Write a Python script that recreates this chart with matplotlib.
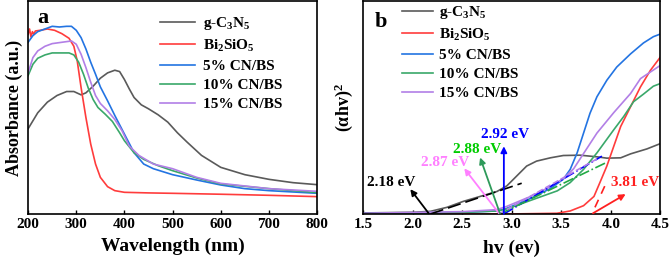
import numpy as np
import matplotlib.pyplot as plt

plt.rcParams['font.family'] = 'Liberation Serif'
plt.rcParams['font.weight'] = 'bold'
plt.rcParams['mathtext.fontset'] = 'custom'
plt.rcParams['mathtext.rm'] = 'Liberation Serif:bold'
plt.rcParams['mathtext.it'] = 'Liberation Serif:italic:bold'
plt.rcParams['mathtext.bf'] = 'Liberation Serif:bold'

# ---- panel a: UV-vis absorbance ----
wl_cn = [200, 210, 220, 240, 260, 280, 295, 310, 320, 335, 350, 365, 380, 390, 400, 410, 420,
         435, 450, 470, 490, 510, 530, 560, 600, 650, 700, 750, 800]
abs_cn = [0.64, 0.70, 0.76, 0.84, 0.89, 0.92, 0.92, 0.895, 0.91, 0.96, 1.02, 1.06, 1.08, 1.07, 1.01,
          0.94, 0.875, 0.82, 0.79, 0.745, 0.69, 0.61, 0.54, 0.44, 0.35, 0.295, 0.26, 0.235, 0.22]

wl_bs = [200, 203, 206, 209, 212, 215, 225, 240, 255, 270, 285, 295, 302, 310, 320, 330, 340, 350,
         365, 380, 400, 450, 500, 600, 700, 800]
abs_bs = [1.35, 1.39, 1.33, 1.37, 1.35, 1.375, 1.38, 1.39, 1.38, 1.355, 1.32, 1.26, 1.15, 0.95, 0.725,
          0.525, 0.375, 0.275, 0.205, 0.175, 0.1625, 0.158, 0.155, 0.148, 0.14, 0.13]

wl_5 = [200, 210, 220, 235, 250, 265, 280, 290, 300, 310, 320, 330, 340, 350, 365, 380, 400, 420,
        440, 460, 500, 550, 600, 650, 700, 800]
abs_5 = [1.29, 1.34, 1.37, 1.39, 1.41, 1.405, 1.41, 1.41, 1.38, 1.325, 1.24, 1.14, 1.05, 0.955, 0.85,
         0.74, 0.60, 0.46, 0.375, 0.34, 0.295, 0.255, 0.2175, 0.19, 0.175, 0.155]

wl_10 = [200, 210, 220, 235, 250, 270, 285, 295, 305, 315, 325, 335, 345, 360, 375, 390, 400, 420,
         440, 470, 500, 550, 600, 700, 800]
abs_10 = [1.04, 1.125, 1.17, 1.195, 1.21, 1.21, 1.21, 1.195, 1.14, 1.05, 0.945, 0.86, 0.80, 0.75,
          0.695, 0.61, 0.55, 0.46, 0.41, 0.3625, 0.325, 0.27, 0.225, 0.19, 0.16]

wl_15 = [200, 210, 220, 235, 250, 270, 290, 300, 310, 320, 330, 340, 350, 365, 380, 395, 410, 430,
         460, 500, 550, 600, 700, 800]
abs_15 = [1.06, 1.175, 1.225, 1.26, 1.28, 1.29, 1.30, 1.275, 1.20, 1.10, 0.99, 0.89, 0.83, 0.775,
          0.71, 0.625, 0.51, 0.44, 0.375, 0.34, 0.275, 0.23, 0.19, 0.17]

# ---- panel b: Tauc plot ----
ev_cn = [1.5, 2.01, 2.18, 2.345, 2.51, 2.68, 2.85, 2.95, 3.05, 3.15, 3.25, 3.39, 3.52, 3.69, 3.86,
         3.96, 4.10, 4.20, 4.365, 4.5]
t_cn = [0.03, 0.05, 0.08, 0.2, 0.38, 0.53, 0.68, 0.85, 1.15, 1.45, 1.6, 1.7, 1.77, 1.78, 1.73,
        1.69, 1.70, 1.82, 1.97, 2.13]

ev_bs = [1.5, 3.0, 3.456, 3.59, 3.725, 3.83, 3.89, 3.96, 4.03, 4.10, 4.20, 4.30, 4.40, 4.5]
t_bs = [0.0, 0.0, 0.02, 0.09, 0.25, 0.53, 0.95, 1.45, 2.05, 2.65, 3.25, 3.85, 4.35, 4.75]

ev_5 = [1.5, 2.51, 2.85, 2.95, 3.19, 3.39, 3.52, 3.59, 3.66, 3.725, 3.79, 3.86, 3.96, 4.06, 4.20,
        4.33, 4.43, 4.5]
t_5 = [0.01, 0.05, 0.09, 0.17, 0.47, 0.77, 1.05, 1.35, 1.85, 2.45, 3.05, 3.55, 4.05, 4.45, 4.85,
       5.18, 5.37, 5.45]

ev_10 = [1.5, 2.51, 2.85, 2.95, 3.19, 3.46, 3.59, 3.725, 3.86, 4.03, 4.13, 4.23, 4.33, 4.43, 4.5]
t_10 = [0.01, 0.05, 0.09, 0.15, 0.41, 0.70, 0.95, 1.35, 1.85, 2.55, 2.95, 3.40, 3.63, 3.87, 3.95]

ev_15 = [1.5, 2.51, 2.85, 2.95, 3.19, 3.39, 3.52, 3.625, 3.725, 3.86, 4.03, 4.20, 4.30, 4.40, 4.5]
t_15 = [0.02, 0.07, 0.13, 0.23, 0.53, 0.83, 1.07, 1.37, 1.83, 2.45, 3.07, 3.65, 4.1, 4.3, 4.5]

names = ['g-C$_3$N$_5$', 'Bi$_2$SiO$_5$', '5% CN/BS', '10% CN/BS', '15% CN/BS']
colors = ['#5a5a5a', '#ff3c3c', '#2374e2', '#3aa86a', '#b27fe6']

# band gaps and tangent end points
gaps = [2.18, 3.81, 2.92, 2.88, 2.87]
tan_end_x = [3.10, 3.96, 3.91, 3.95, 3.88]
tan_end_y = [0.93, 0.98, 1.75, 1.55, 1.70]

fig = plt.figure(figsize=(6.69, 2.59), dpi=100)
ax1 = fig.add_axes([0.042, 0.174, 0.432, 0.822])
ax2 = fig.add_axes([0.543, 0.174, 0.444, 0.822])

xs_a = [wl_cn, wl_bs, wl_5, wl_10, wl_15]
ys_a = [abs_cn, abs_bs, abs_5, abs_10, abs_15]
for x, y, c, n in zip(xs_a, ys_a, colors, names):
    ax1.plot(x, y, color=c, lw=1.2, label=n)
ax1.set_xlim(200, 800)
ax1.set_ylim(0, 1.6)
ax1.set_yticks([])
ax1.set_xticks(range(200, 801, 100))
ax1.set_xlabel('Wavelength (nm)', fontsize=14, fontweight='bold', labelpad=5)
ax1.set_ylabel('Absorbance (a.u.)', fontsize=13, fontweight='bold', labelpad=4)
ax1.text(0.03, 0.965, 'a', transform=ax1.transAxes, fontsize=16, fontweight='bold', va='top')
ax1.legend(loc='upper left', bbox_to_anchor=(0.457, 0.933), frameon=False, fontsize=11,
           handlelength=2.3, handletextpad=0.5, labelspacing=0.36, borderpad=0, borderaxespad=0)

xs_b = [ev_cn, ev_bs, ev_5, ev_10, ev_15]
ys_b = [t_cn, t_bs, t_5, t_10, t_15]
for x, y, c, n in zip(xs_b, ys_b, colors, names):
    ax2.plot(x, y, color=c, lw=1.2, label=n)

# tangent lines
ax2.plot([gaps[0], tan_end_x[0]], [0, tan_end_y[0]], color='black', lw=1.2, ls=(0, (8, 3)))
ax2.plot([3.84, tan_end_x[1]], [0.2, tan_end_y[1]], color='#ff2020', lw=1.2, ls=(0, (5, 4)))
ax2.plot([gaps[2], tan_end_x[2]], [0, tan_end_y[2]], color='#0000ff', lw=1.2, ls='-.')
ax2.plot([gaps[3], tan_end_x[3]], [0, tan_end_y[3]], color='#22aa44', lw=1.2, ls='-.')
ax2.plot([gaps[4], tan_end_x[4]], [0, tan_end_y[4]], color='#b47fe8', lw=1.2, ls='--')

# arrows + labels
arrow_kw = dict(arrowstyle='-|>', lw=1.3, mutation_scale=9, shrinkA=0, shrinkB=0)
ax2.annotate('', xy=(1.975, 0.75), xytext=(2.16, 0.02), arrowprops=dict(color='black', **arrow_kw))
ax2.text(1.785, 0.96, '2.18 eV', color='black', fontsize=11, ha='center', va='center')
ax2.annotate('', xy=(2.52, 1.38), xytext=(2.87, 0.02), arrowprops=dict(color='#ff80ff', **arrow_kw))
ax2.text(2.33, 1.56, '2.87 eV', color='#ff80ff', fontsize=11, ha='center', va='center')
ax2.annotate('', xy=(2.68, 1.71), xytext=(2.88, 0.02), arrowprops=dict(color='#2e9a5a', **arrow_kw))
ax2.text(2.645, 1.95, '2.88 eV', color='#00cc00', fontsize=11, ha='center', va='center')
ax2.annotate('', xy=(2.92, 2.05), xytext=(2.92, 0.0), arrowprops=dict(color='#0000ff', **arrow_kw))
ax2.text(2.93, 2.40, '2.92 eV', color='#0000ff', fontsize=11, ha='center', va='center')
ax2.annotate('', xy=(4.15, 0.6), xytext=(3.82, 0.02), arrowprops=dict(color='#ff2020', **arrow_kw))
ax2.text(4.00, 0.95, '3.81 eV', color='#ff2020', fontsize=11, ha='left', va='center')

ax2.set_xlim(1.5, 4.5)
ax2.set_ylim(0, 6.45)
ax2.set_yticks([])
ax2.set_xticks([1.5, 2.0, 2.5, 3.0, 3.5, 4.0, 4.5])
ax2.set_xlabel('hv (ev)', fontsize=14, fontweight='bold', labelpad=6)
ax2.set_ylabel('(αhv)$^2$', fontsize=13, fontweight='bold', labelpad=6)
ax2.text(0.04, 0.95, 'b', transform=ax2.transAxes, fontsize=16, fontweight='bold', va='top')
ax2.legend(loc='upper left', bbox_to_anchor=(0.131, 0.985), frameon=False, fontsize=11,
           handlelength=2.0, handletextpad=0.4, labelspacing=0.36, borderpad=0, borderaxespad=0)

for ax in (ax1, ax2):
    ax.tick_params(axis='x', direction='in', length=3, width=1, labelsize=11, pad=3)
    for lab in ax.get_xticklabels():
        lab.set_fontweight('bold')
    for s in ax.spines.values():
        s.set_linewidth(1.2)

fig.savefig('out.png', dpi=100)
